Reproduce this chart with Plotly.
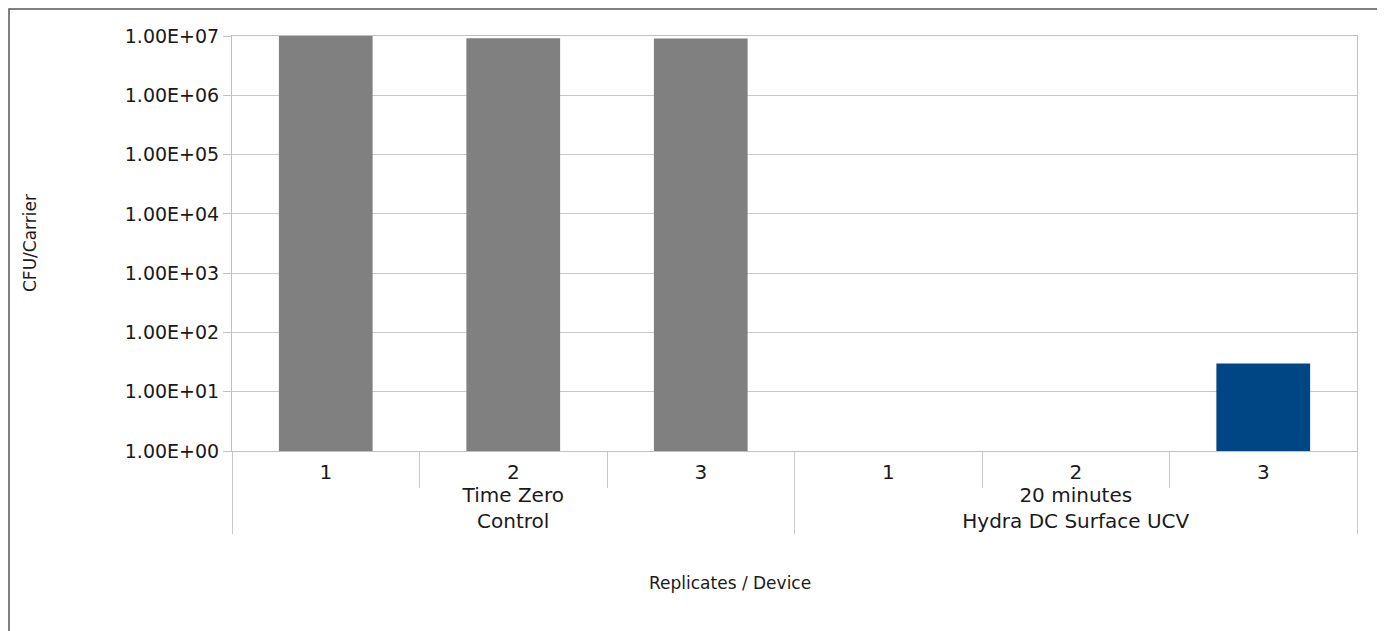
import plotly.graph_objects as go

groups = ["Time Zero<br>Control"] * 3 + ["20 minutes<br>Hydra DC Surface UCV"] * 3
replicates = ["1", "2", "3", "1", "2", "3"]
cfu = [1.0e7, 9.2e6, 9.1e6, None, None, 30]
bar_colors = ["#808080", "#808080", "#808080", "#004685", "#004685", "#004685"]
y_tickvals = [1, 10, 100, 1e3, 1e4, 1e5, 1e6, 1e7]
y_ticktext = ["1.00E+00", "1.00E+01", "1.00E+02", "1.00E+03", "1.00E+04", "1.00E+05", "1.00E+06", "1.00E+07"]

# page has an 8px body margin; figure coordinates = page coordinates - 8
W, H = 1377, 623
L, R, T, B = 224, 28, 28, 180
pw, ph = W - L - R, H - T - B

FONT = "DejaVu Sans"
fig = go.Figure(go.Bar(
    x=[groups, replicates], y=cfu, marker_color=bar_colors, marker_line_width=0,
))

fig.update_layout(
    width=W, height=H, margin=dict(l=L, r=R, t=T, b=B),
    paper_bgcolor="white", plot_bgcolor="white", bargap=0.5,
    showlegend=False, font=dict(family=FONT, size=19, color="#1a1a1a"),
)
fig.update_yaxes(
    type="log", range=[0, 7], tickvals=y_tickvals, ticktext=y_ticktext,
    showgrid=True, gridcolor="#c8c8c8", gridwidth=1,
    showline=True, linecolor="#c0c0c0", linewidth=1, mirror=True,
    ticks="outside", ticklen=8, tickcolor="#c0c0c0", zeroline=False,
    tickfont=dict(size=19),
)
fig.update_xaxes(
    type="multicategory", showline=True, linecolor="#c0c0c0", linewidth=1, mirror=True,
    showdividers=True, dividercolor="#c8c8c8", dividerwidth=1,
    ticks="outside", tickson="boundaries", ticklen=36, tickcolor="#c8c8c8",
    tickfont=dict(size=20), ticklabelstandoff=3,
)

fig.add_annotation(text="CFU/Carrier", xref="paper", yref="paper",
                   x=(22 - L) / pw, y=1 - (235 - T) / ph,
                   xanchor="center", yanchor="middle",
                   textangle=-90, showarrow=False, font=dict(size=17, family=FONT))
fig.add_annotation(text="Replicates / Device", xref="paper", yref="paper",
                   x=(722 - L) / pw, y=-(575 - (H - B)) / ph,
                   xanchor="center", yanchor="middle",
                   showarrow=False, font=dict(size=17, family=FONT))

# chart frame (left and top edges visible)
fig.add_shape(type="rect", xref="paper", yref="paper",
              x0=(1 - L) / pw, x1=(W + 10 - L) / pw,
              y0=-(H + 10 - (H - B)) / ph, y1=1 + (T - 1) / ph,
              line=dict(color="#555555", width=1.5), layer="below")

fig.write_html("out.html")
